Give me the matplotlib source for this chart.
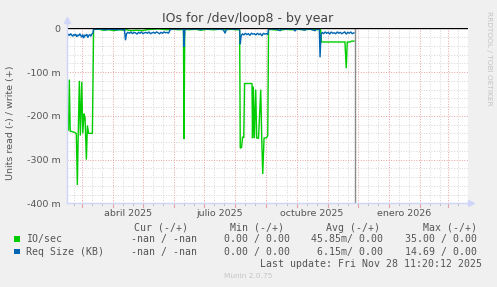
import matplotlib
matplotlib.use("Agg")
import matplotlib.pyplot as plt
from matplotlib.patches import Rectangle
import matplotlib.transforms as mtransforms
from datetime import date, datetime

# ---------------- data (x = days since 2025-01-01, y in milli-units) ----------------
io_days = [44.0, 45.8, 46.6, 47.5, 52.3, 53.6, 54.6, 55.5, 56.6, 57.6, 59.0, 60.0, 61.3, 62.3,
           63.6, 64.6, 65.8, 69.6, 70.8, 75, 80, 86, 91, 96, 101, 104, 108, 114, 119, 124, 129,
           136, 143, 150, 156, 160.3, 160.9, 161.6, 166, 172, 178, 184, 190, 196, 202, 208, 213,
           216.3, 216.9, 218.2, 219.2, 220.4, 221.2, 228.6, 229.1, 229.9, 230.9, 232.3, 233.3,
           235.1, 237.3, 238.3, 239.3, 240.6, 243.1, 244.3, 245.1, 250, 256.6, 262, 268, 274,
           280, 286, 292, 296.9, 297.8, 321.2, 322.5, 323.5, 326.2, 327.9, 330.2]
io_vals = [-232, -233, -117, -235, -238, -241, -358, -240, -120, -245, -122, -240, -195, -205,
           -300, -222, -240, -240, -2, -1, -4, -3, -5, -3, -4, -3, -5, -4, -5, -3, -2,
           -1, -3, -2, -3, -2, -253, -2, -3, -2, -4, -2, -3, -2, -3, -2, -3,
           -3, -274, -272, -248, -250, -126, -126, -251, -133, -251, -140, -251,
           -251, -140, -251, -333, -251, -250, -245, -2, -3, -4, -2, -3, -2,
           -3, -2, -3, -2, -31, -31, -91, -31, -31, -29, -29]

req_days = [44, 45, 46, 47, 48, 49, 50, 51, 52, 53, 54, 55, 56, 57, 58, 59, 60, 61, 62, 63, 64,
            65, 66, 67, 68, 69, 70, 70.8, 74, 78, 82, 86, 90, 94, 98, 101.5, 102.6, 103.6, 105,
            106.5, 108, 109.5, 111, 112.5, 114, 115.5, 117, 118.5, 120, 121.5, 123, 124.5, 126,
            127.5, 129, 130.5, 132, 133.5, 135, 136.5, 138, 139.5, 141, 142.5, 144, 145.5, 147,
            150, 154, 158, 160.3, 160.9, 161.6, 165, 169, 173, 177, 181, 185, 189, 193, 197, 200,
            201.8, 203, 207, 211, 215, 216.3, 216.9, 217.7, 219, 220.5, 222, 223.5, 225, 226.5,
            228, 229.5, 231, 232.5, 234, 235.5, 237, 238.5, 240, 241.5, 243, 244.3, 245.1, 249,
            253, 256.6, 258, 262, 266, 270, 271.5, 273, 277, 281.5, 283, 287, 291.4, 293, 295.7,
            296.4, 297.4, 298.5, 300, 301.5, 303, 304.5, 306, 307.5, 309, 310.5, 312, 313.5, 315,
            316.5, 318, 319.5, 321, 322.5, 324, 325.5, 327, 328.5, 330.2]
req_vals = [-14, -17, -13, -16, -12, -15, -18, -14, -16, -13, -19, -15, -17, -12, -16, -20, -14,
            -22, -15, -17, -13, -21, -16, -14, -18, -13, -11, -2, -2, -1, -3, -2, -2, -3, -2, -3,
            -27, -12, -9, -11, -8, -12, -9, -10, -13, -9, -11, -8, -12, -10, -9, -11, -8, -12,
            -10, -9, -11, -8, -10, -12, -9, -11, -8, -10, -9, -11, -3, -1, -2, -1, -2, -42, -3,
            -1, -2, -1, -3, -1, -2, -1, -2, -1, -3, -11, -2, -1, -2, -1, -3, -36, -18, -12, -15,
            -11, -14, -12, -16, -11, -13, -12, -15, -11, -14, -12, -17, -11, -13, -12, -14, -2,
            -1, -2, -5, -1, -2, -1, -2, -6, -1, -2, -4, -1, -2, -5, -1, -2, -66, -14, -9, -12,
            -8, -11, -9, -13, -8, -11, -10, -12, -8, -11, -9, -12, -10, -8, -13, -9, -11, -8,
            -12, -10]

x_tick_days = [105, 196, 288, 380]
x_tick_labels = ["abril 2025", "julio 2025", "octubre 2025", "enero 2026"]
y_ticks = [0, -100, -200, -300, -400]
y_tick_labels = ["0", "-100 m", "-200 m", "-300 m", "-400 m"]

legend_names = ["IO/sec", "Req Size (KB)"]
legend_colors = ["#00CC00", "#0066B3"]
legend_cur = ["-nan / -nan", "-nan / -nan"]
legend_min = ["0.00 / 0.00", "0.00 / 0.00"]
legend_avg = ["45.85m/ 0.00", "6.15m/ 0.00"]
legend_max = ["35.00 / 0.00", "14.69 / 0.00"]

title = "IOs for /dev/loop8 - by year"
ylabel = "Units read (-) / write (+)"
last_update = "Last update: Fri Nov 28 11:20:12 2025"

# ---------------- layout ----------------
W, H, DPI = 497, 287, 100
BG = "#F0F0F0"
AXIS_C = "#CFD6F8"
MGRID = "#E6A3A3"
GRID = "#D6D6D6"
TXT = "#555555"

X0, X1 = 44.0, 443.5
Y0, Y1 = -400.0, 1.0

fig = plt.figure(figsize=(W / DPI, H / DPI), dpi=DPI, facecolor=BG)
L, R, T, B = 66.7, 467.7, 28.0, 203.3
ax = fig.add_axes([L / W, 1 - B / H, (R - L) / W, (B - T) / H])
ax.set_facecolor("white")
ax.set_xlim(X0, X1)
ax.set_ylim(Y0, Y1)
for s in ax.spines.values():
    s.set_visible(False)

base = date(2025, 1, 1)
def dnum(y, m, d):
    return (date(y, m, d) - base).days

month_starts = []
minor_days = []
y, m = 2025, 2
while (y, m) <= (2026, 4):
    month_starts.append(dnum(y, m, 1))
    minor_days.append(dnum(y, m, 11))
    minor_days.append(dnum(y, m, 21))
    m += 1
    if m > 12:
        m, y = 1, y + 1

dash = (0, (1.0, 1.6))
# minor horizontal grid
for v in range(-380, 0, 20):
    if v % 100 != 0:
        ax.axhline(v, color=GRID, lw=0.7, ls=dash, zorder=1)
for v in minor_days:
    if X0 < v < X1:
        ax.axvline(v, color=GRID, lw=0.7, ls=dash, zorder=1)
for v in [-100, -200, -300]:
    ax.axhline(v, color=MGRID, lw=0.7, ls=dash, zorder=1.5)
for v in month_starts:
    if X0 < v < X1:
        ax.axvline(v, color=MGRID, lw=0.7, ls=dash, zorder=1.5)

# tick marks below/left of axes
tb = mtransforms.blended_transform_factory(ax.transData, ax.transAxes)
for v in month_starts:
    if X0 < v < X1:
        ax.plot([v, v], [-0.02, 0.0], color=MGRID, lw=0.8, transform=tb, clip_on=False)
for v in minor_days:
    if X0 < v < X1:
        ax.plot([v, v], [-0.012, 0.0], color="#BBBBBB", lw=0.7, transform=tb, clip_on=False)

# data
ax.plot(io_days, io_vals, color=legend_colors[0], lw=1.0, zorder=3, solid_joinstyle="miter")
ax.plot(req_days, req_vals, color=legend_colors[1], lw=1.0, zorder=4, solid_joinstyle="miter")

# zero line and "now" line
ax.axhline(0, color="black", lw=1.0, zorder=5)
now = datetime(2025, 11, 28, 11, 20, 12)
now_day = (now - datetime(2025, 1, 1)).total_seconds() / 86400.0
ax.axvline(now_day, color="#8A8A8A", lw=1.0, zorder=2)

# axes lines with arrows
ta = ax.transAxes
ax.plot([0, 0], [0, 1.035], color=AXIS_C, lw=1.0, transform=ta, clip_on=False, zorder=6)
ax.plot([0, 1.006], [0, 0], color=AXIS_C, lw=1.0, transform=ta, clip_on=False, zorder=6)
ax.plot([0], [1.045], marker="^", ms=4.5, color=AXIS_C, transform=ta, clip_on=False, zorder=6)
ax.plot([1.009], [0], marker=">", ms=4.5, color=AXIS_C, transform=ta, clip_on=False, zorder=6)

# ticks
ax.set_xticks(x_tick_days)
ax.set_xticklabels(x_tick_labels)
ax.set_yticks(y_ticks)
ax.set_yticklabels(y_tick_labels)
ax.tick_params(axis="both", length=0, labelsize=6.8, colors=TXT)
ax.tick_params(axis="x", pad=4.0)
ax.tick_params(axis="y", pad=4.2)

# texts
fig.text(248 / W, 1 - 18.5 / H, title, ha="center", va="center", fontsize=9, color="#444444")
fig.text(10.5 / W, 1 - 123 / H, ylabel, ha="center", va="center", rotation=90,
         fontsize=6.8, color=TXT)
fig.text(488.5 / W, 1 - 58 / H, "RRDTOOL / TOBI OETIKER", ha="center", va="center",
         rotation=270, fontsize=5.3, color="#C4C4C4")
fig.text(248 / W, 1 - 276 / H, "Munin 2.0.75", ha="center", va="center", fontsize=5.3,
         color="#C4C4C4")

mono = dict(family="DejaVu Sans Mono", fontsize=7.15, color=TXT, va="center")
hy = 227.7
for hx, htxt in [(134.3, "Cur (-/+)"), (230, "Min (-/+)"), (326, "Avg (-/+)"), (422.7, "Max (-/+)")]:
    fig.text(hx / W, 1 - hy / H, htxt, ha="left", **mono)
rows_y = [239.3, 251.7]
for i, ry in enumerate(rows_y):
    fig.patches.append(Rectangle((14 / W, 1 - (ry + 2.6) / H), 5.5 / W, 5.5 / H,
                                 transform=fig.transFigure, facecolor=legend_colors[i],
                                 edgecolor="none"))
    fig.text(26.3 / W, 1 - ry / H, legend_names[i], ha="left", **mono)
    fig.text(197 / W, 1 - ry / H, legend_cur[i], ha="right", **mono)
    fig.text(290 / W, 1 - ry / H, legend_min[i], ha="right", **mono)
    fig.text(383.3 / W, 1 - ry / H, legend_avg[i], ha="right", **mono)
    fig.text(476.7 / W, 1 - ry / H, legend_max[i], ha="right", **mono)
fig.text(482.3 / W, 1 - 264 / H, last_update, ha="right", **mono)

fig.savefig("out.png", dpi=DPI, facecolor=BG)
